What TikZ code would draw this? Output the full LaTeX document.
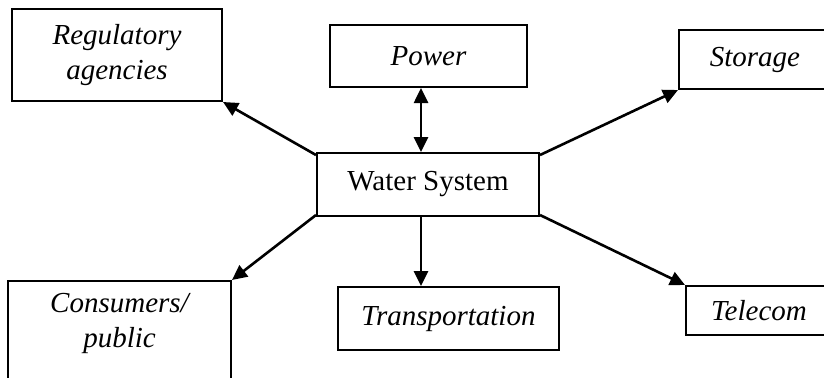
\documentclass[tikz,border=0pt]{standalone}
\usepackage{fontspec}
\setmainfont{Liberation Serif}
\usetikzlibrary{arrows.meta}

\tikzset{
  sysbox/.style={draw, line width=1pt, rectangle, inner sep=0pt, align=center,
                 font=\fontsize{14.5}{17.5}\selectfont},
  link/.style={line width=1.3pt, -{Triangle[length=7.5pt,width=7pt]}}
}

\begin{document}
\begin{tikzpicture}[x=0.5pt,y=-0.5pt]
\useasboundingbox (0,0) rectangle (824,377);
% centre box
\node[sysbox, minimum width=111pt, minimum height=31.5pt] (water) at (428,184.5) {Water System};
% the other systems
\node[sysbox, minimum width=105pt, minimum height=46pt] (reg) at (117,55) {\itshape Regulatory\\\itshape agencies};
\node[sysbox, minimum width=98.5pt, minimum height=31pt] (power) at (428.5,56) {\itshape Power};
\node[sysbox, minimum width=76pt, minimum height=29.5pt] (store) at (755,59.5) {\itshape Storage};
\node[sysbox, minimum width=111.5pt, anchor=north, text depth=40pt, inner ysep=6pt] (cons) at (119.5,280) {\itshape Consumers/\\\itshape public};
\node[sysbox, minimum width=110.5pt, minimum height=31.5pt] (trans) at (448.5,318.5) {\itshape Transportation};
\node[sysbox, minimum width=73pt, minimum height=24.5pt] (tele) at (759,310.5) {\itshape Telecom};
% connectors
\draw[link] ([yshift=-1.5pt]water.north west) -- (reg.south east);
\draw[link, {Triangle[length=7.5pt,width=7pt]}-{Triangle[length=7.5pt,width=7pt]}] ([xshift=-3.5pt]water.north) -- ([xshift=-3.5pt]water.north |- power.south);
\draw[link] ([yshift=-1.5pt]water.north east) -- (store.south west);
\draw[link] ([yshift=1pt]water.south west) -- (cons.north east);
\draw[link] ([xshift=-3.5pt]water.south) -- ([xshift=-3.5pt]water.south |- trans.north);
\draw[link] ([yshift=1pt]water.south east) -- (tele.north west);
\end{tikzpicture}
\end{document}
